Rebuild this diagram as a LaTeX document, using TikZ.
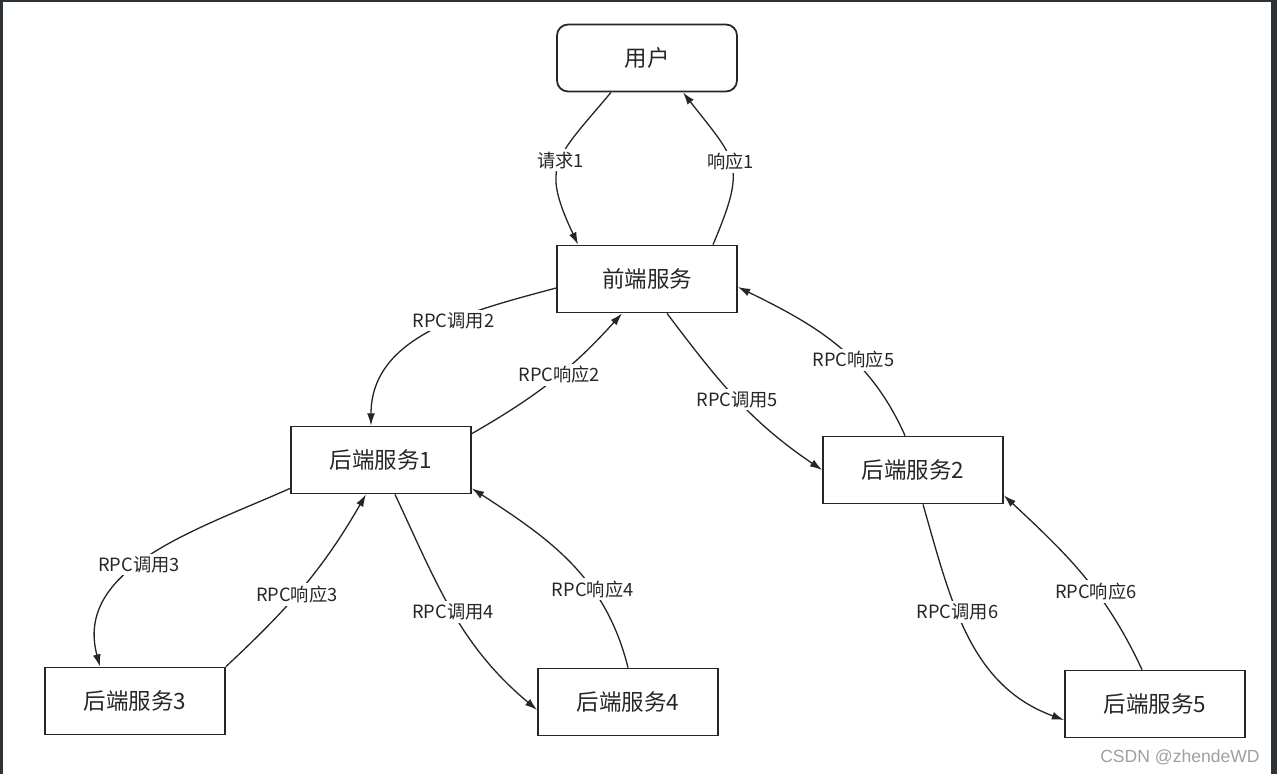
\documentclass[tikz,border=0pt]{standalone}
\usepackage{fontspec}
\setmainfont{Noto Sans CJK SC}
\newfontfamily\wmfont{Liberation Sans}
\usepackage{tikz}
\usetikzlibrary{calc,positioning,arrows.meta}
\definecolor{inkgray}{HTML}{262626}
\definecolor{edgegray}{HTML}{2E3338}

\begin{document}
\begin{tikzpicture}[x=0.02cm,y=0.02cm,>={Latex[length=7pt,width=4.5pt]},
  srv/.style={draw=inkgray,line width=1pt,minimum width=3.6cm,minimum height=1.34cm,text=inkgray,font=\fontsize{12.8}{15}\selectfont},
  userbox/.style={srv,rounded corners=0.22cm},
  call/.style={->,draw=inkgray,line width=0.75pt},
  lbl/.style={fill=white,inner sep=1.5pt,text=inkgray,font=\fontsize{10.4}{12}\selectfont}]
              \useasboundingbox (0,0) rectangle (1277,-774);
              \fill[edgegray] (0,0) rectangle (3,-774);
              \fill[edgegray] (1271,0) rectangle (1277,-774);
              \fill[edgegray] (0,0) rectangle (1277,-1.5);

              \node[userbox] (usr) at (647,-58) {用户};
              \node[srv] (fe) at (647,-279) {前端服务};
              \node[srv] (be1) at (381,-460) {后端服务1};
              \node[srv] (be2) at (913,-470) {后端服务2};
              \node[srv] (be3) at (135,-701) {后端服务3};
              \node[srv] (be4) at (628,-702) {后端服务4};
              \node[srv] (be5) at (1155,-704) {后端服务5};

              \draw[call] ([xshift=-0.72cm]usr.south) to[out=230,in=115,looseness=1.45] node[lbl,pos=0.47] {请求1} ([xshift=-1.38cm]fe.north);
              \draw[call] ([xshift=1.32cm]fe.north) to[out=67,in=-52,looseness=1.45] node[lbl,pos=0.52] {响应1} ([xshift=0.72cm]usr.south);
              \draw[call] ([yshift=-0.18cm]fe.west) to[out=195,in=90] node[lbl,pos=0.4] {RPC调用2} ([xshift=-0.2cm]be1.north);
              \draw[call] ([yshift=-0.16cm]be1.north east) to[out=30,in=228] node[lbl,pos=0.55] {RPC响应2} ([xshift=-0.5cm]fe.south);
              \draw[call] ([xshift=0.4cm]fe.south) to[out=-53,in=146] node[lbl,pos=0.5] {RPC调用5} (be2.west);
              \draw[call] ([xshift=-0.16cm]be2.north) to[out=114,in=-26] node[lbl,pos=0.4] {RPC响应5} ([yshift=-0.16cm]fe.east);
              \draw[call] ([yshift=0.12cm]be1.south west) to[out=204,in=105] node[lbl,pos=0.55] {RPC调用3} ([xshift=-0.7cm]be3.north);
              \draw[call] (be3.north east) to[out=43,in=240] node[lbl,pos=0.45] {RPC响应3} ([xshift=-0.3cm]be1.south);
              \draw[call] ([xshift=0.28cm]be1.south) to[out=-65,in=140] node[lbl,pos=0.5] {RPC调用4} ([yshift=-0.16cm]be4.west);
              \draw[call] (be4.north) to[out=104,in=-33] node[lbl,pos=0.35] {RPC响应4} ([yshift=0.12cm]be1.south east);
              \draw[call] ([xshift=0.2cm]be2.south) to[out=-74,in=160] node[lbl,pos=0.4] {RPC调用6} ([yshift=-0.32cm]be5.west);
              \draw[call] ([xshift=-0.26cm]be5.north) to[out=115,in=-43] node[lbl,pos=0.4] {RPC响应6} ([yshift=0.18cm]be2.south east);

              \node[text=gray!75,font=\wmfont\fontsize{10}{12}\selectfont] (wm) at (1180,-757) {CSDN @zhendeWD};
            \end{tikzpicture}
\end{document}
